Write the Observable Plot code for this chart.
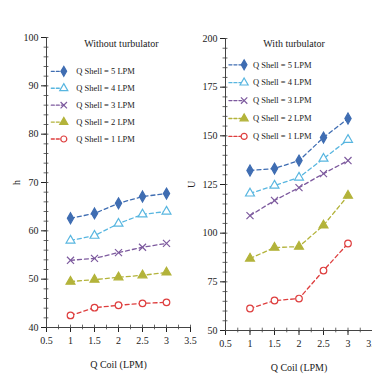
<!DOCTYPE html>
<html><head><meta charset="utf-8">
<script src="https://cdn.jsdelivr.net/npm/d3@7"></script>
<script src="https://cdn.jsdelivr.net/npm/@observablehq/plot@0.6"></script>
<style>
body{margin:0;background:#fff}
#c{position:relative;width:372px;height:376px;overflow:hidden;background:#fff}
#c svg{position:absolute;top:0}
</style>
</head><body><div id="c"></div>
<script>
// ---------- data ----------
const qCoil = [1, 1.5, 2, 2.5, 3];
const seriesNames = ["Q Shell = 5 LPM", "Q Shell = 4 LPM", "Q Shell = 3 LPM", "Q Shell = 2 LPM", "Q Shell = 1 LPM"];
const seriesColors = ["#3f6db2", "#58b6e0", "#7d5a9e", "#b3b33a", "#de3e3e"];
const seriesSymbols = ["diamond", "triangle", "times", "triangle", "circle"];
const seriesFilled = [true, false, false, true, false];

// Without turbulator
const woShell5 = [62.6, 63.6, 65.7, 67.1, 67.7];
const woShell4 = [58.0, 59.0, 61.5, 63.4, 64.0];
const woShell3 = [53.9, 54.3, 55.5, 56.6, 57.4];
const woShell2 = [49.5, 49.9, 50.4, 50.8, 51.4];
const woShell1 = [42.5, 44.1, 44.6, 45.0, 45.2];

// With turbulator
const wShell5 = [132.2, 133.2, 137.3, 149.1, 158.9];
const wShell4 = [120.4, 124.5, 128.6, 138.3, 148.0];
const wShell3 = [109.0, 116.8, 123.4, 130.6, 137.3];
const wShell2 = [87.0, 92.6, 93.1, 104.0, 119.3];
const wShell1 = [61.3, 65.4, 66.4, 80.8, 94.7];

const xTicks = [0.5, 1, 1.5, 2, 2.5, 3, 3.5];
const yTicksLeft = [40, 50, 60, 70, 80, 90, 100];
const yTicksRight = [50, 75, 100, 125, 150, 175, 200];

const xLabel = "Q Coil (LPM)";
const titleLeft = "Without turbulator";
const titleRight = "With turbulator";
const yLabelLeft = "h";
const yLabelRight = "U";

function rows(seriesArrays) {
  const out = [];
  seriesArrays.forEach((vals, i) => vals.forEach((v, j) => out.push({series: seriesNames[i], idx: i, x: qCoil[j], y: v})));
  return out;
}

const font = "Liberation Serif, Times New Roman, serif";

function panel({series, yDomain, yTicks, yMinor, width, marginLeft, marginTop, marginBottom, left, title, titleX, yLabel, labelOffset, leg}) {
  const data = rows(series);
  const legend = seriesNames.map((s, i) => ({series: s, idx: i, y: leg.y0 - i * leg.dy}));
  const legLine = legend.flatMap(d => [{...d, x: leg.x0}, {...d, x: leg.x1}]);
  const fillOf = d => seriesFilled[d.idx] ? seriesColors[d.idx] : "white";
  const xMinor = d3.range(0.5, 3.51, 0.25);
  const yTickLen = (yDomain[1] - yDomain[0]) * 0.008;
  const svg = Plot.plot({
    width, height: 376, marginLeft, marginRight: 0, marginTop, marginBottom,
    style: {fontFamily: font, fontSize: "10px", background: "transparent", overflow: "visible", color: "#222"},
    x: {domain: [0.5, 3.5]},
    y: {domain: yDomain},
    color: {domain: seriesNames, range: seriesColors},
    symbol: {domain: seriesNames, range: seriesSymbols},
    marks: [
      Plot.ruleY(yMinor, {y: d => d, x1: 0.45, x2: 0.55, stroke: "#555", strokeWidth: 0.9, clip: false}),
      Plot.ruleX(xMinor, {x: d => d, y1: yDomain[0] - yTickLen, y2: yDomain[0] + yTickLen, stroke: "#555", strokeWidth: 0.9, clip: false}),
      Plot.axisX({ticks: xTicks, tickSize: 5, tickFormat: d => String(d), tickPadding: 4,
                  label: xLabel, labelAnchor: "center", labelArrow: "none", labelOffset: 40}),
      Plot.axisY({ticks: yTicks, tickSize: 5, tickPadding: 3,
                  label: yLabel, labelAnchor: "center", labelArrow: "none", labelOffset}),
      Plot.ruleX([0.5], {stroke: "#444"}),
      Plot.ruleY([yDomain[0]], {stroke: "#444"}),
      Plot.line(data, {x: "x", y: "y", z: "series", stroke: "series", strokeDasharray: "4,3", strokeWidth: 1.3}),
      Plot.dot(data, {x: "x", y: "y", symbol: "series", stroke: "series", fill: fillOf, r: 3.3, strokeWidth: 1.2}),
      Plot.text([title], {x: titleX, y: leg.titleY, text: d => d, fontSize: 10, fill: "#222"}),
      Plot.line(legLine, {x: "x", y: "y", z: "series", stroke: "series", strokeDasharray: "3,2", strokeWidth: 1.3}),
      Plot.dot(legend, {x: leg.x1, y: "y", symbol: "series", stroke: "series", fill: fillOf, r: 3, strokeWidth: 1.2}),
      Plot.text(legend, {x: leg.tx, y: "y", text: "series", textAnchor: "start", fontSize: 8.5, fill: "#222"})
    ]
  });
  svg.style.left = left + "px";
  return svg;
}

const c = document.getElementById("c");
c.appendChild(panel({
  series: [woShell5, woShell4, woShell3, woShell2, woShell1],
  yDomain: [40, 100], yTicks: yTicksLeft, yMinor: d3.range(40, 100.1, 2),
  width: 190, marginLeft: 46, marginTop: 37, marginBottom: 49, left: 0,
  title: titleLeft, titleX: 2.06, yLabel: yLabelLeft, labelOffset: 34,
  leg: {x0: 0.6, x1: 0.86, tx: 1.12, y0: 93, dy: 3.5, titleY: 98.6}
}));
c.appendChild(panel({
  series: [wShell5, wShell4, wShell3, wShell2, wShell1],
  yDomain: [50, 200], yTicks: yTicksRight, yMinor: d3.range(50, 200.1, 5),
  width: 192, marginLeft: 45, marginTop: 38, marginBottom: 46, left: 180,
  title: titleRight, titleX: 1.9, yLabel: yLabelRight, labelOffset: 38,
  leg: {x0: 0.57, x1: 0.88, tx: 1.06, y0: 186.5, dy: 9.2, titleY: 197.4}
}));
</script>
</body></html>
